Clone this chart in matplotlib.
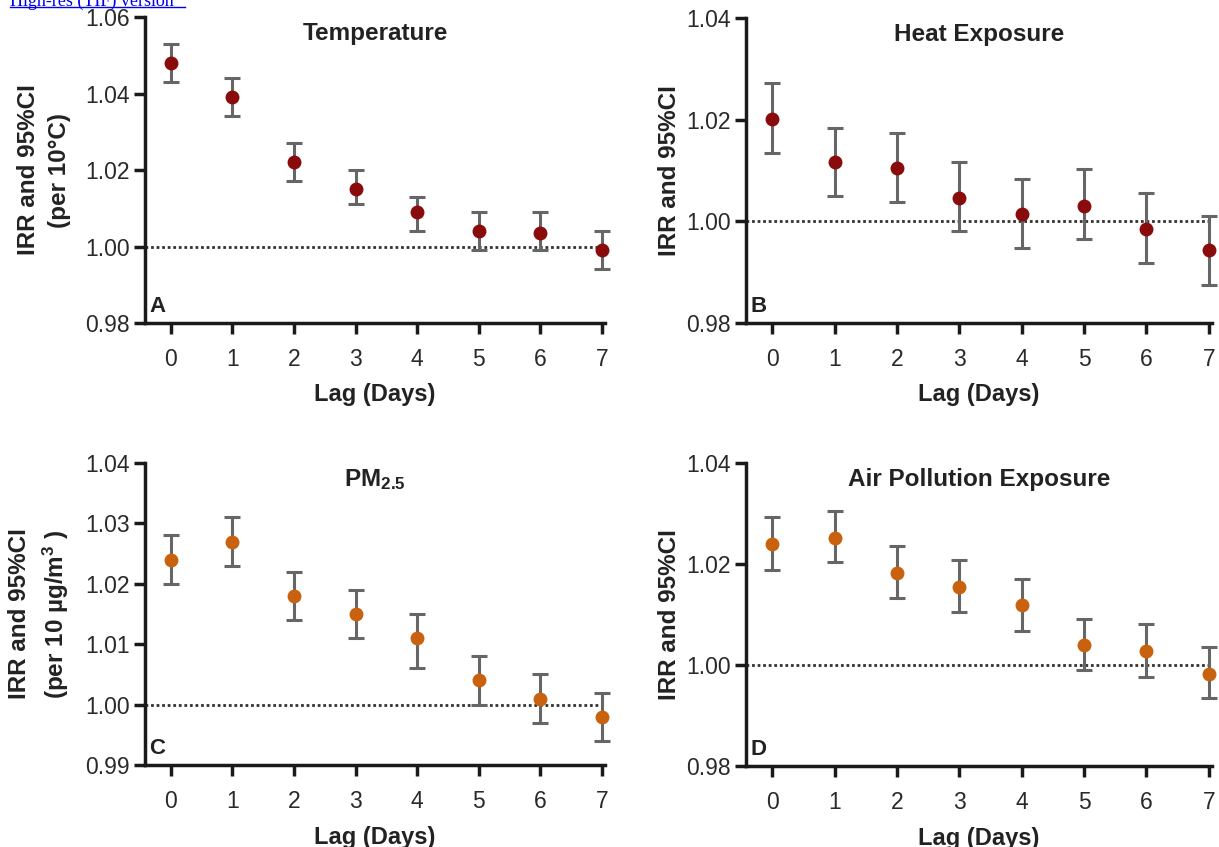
import matplotlib
matplotlib.use("Agg")
import matplotlib.pyplot as plt
from matplotlib.lines import Line2D

plt.rcParams['font.family'] = ['Liberation Sans', 'DejaVu Sans']
plt.rcParams['mathtext.fontset'] = 'custom'
plt.rcParams['mathtext.rm'] = 'Liberation Sans:bold'
plt.rcParams['mathtext.bf'] = 'Liberation Sans:bold'
plt.rcParams['mathtext.default'] = 'bf'

lags = [0, 1, 2, 3, 4, 5, 6, 7]

temp_irr = [1.048, 1.039, 1.022, 1.015, 1.009, 1.004, 1.0035, 0.999]
temp_lo = [1.043, 1.034, 1.017, 1.011, 1.004, 0.999, 0.999, 0.994]
temp_hi = [1.053, 1.044, 1.027, 1.020, 1.013, 1.009, 1.009, 1.004]

heat_irr = [1.0201, 1.0117, 1.0105, 1.0045, 1.0015, 1.0031, 0.9985, 0.9944]
heat_lo = [1.0134, 1.0050, 1.0039, 0.9981, 0.9948, 0.9966, 0.9919, 0.9875]
heat_hi = [1.0272, 1.0184, 1.0174, 1.0116, 1.0083, 1.0102, 1.0055, 1.0011]

pm_irr = [1.024, 1.027, 1.018, 1.015, 1.011, 1.004, 1.001, 0.998]
pm_lo = [1.020, 1.023, 1.014, 1.011, 1.006, 1.000, 0.997, 0.994]
pm_hi = [1.028, 1.031, 1.022, 1.019, 1.015, 1.008, 1.005, 1.002]

air_irr = [1.0239, 1.0251, 1.0183, 1.0155, 1.0119, 1.0040, 1.0028, 0.9983]
air_lo = [1.0189, 1.0203, 1.0132, 1.0104, 1.0068, 0.9991, 0.9977, 0.9934]
air_hi = [1.0294, 1.0305, 1.0236, 1.0208, 1.0171, 1.0092, 1.0081, 1.0036]

titles = ["Temperature", "Heat Exposure", r"PM$_{2.5}$", "Air Pollution Exposure"]
letters = ["A", "B", "C", "D"]
ylabels = ["IRR and 95%CI\n(per 10°C)", "IRR and 95%CI",
           "IRR and 95%CI\n(per 10 µg/m$^{3}$ )", "IRR and 95%CI"]
yticks = [[0.98, 1.00, 1.02, 1.04, 1.06],
          [0.98, 1.00, 1.02, 1.04],
          [0.99, 1.00, 1.01, 1.02, 1.03, 1.04],
          [0.98, 1.00, 1.02, 1.04]]

dark_red = "#8a0b0b"
orange = "#c8620e"
colors = [dark_red, dark_red, orange, orange]

W, H = 1219, 847
fig = plt.figure(figsize=(W / 100, H / 100), dpi=100)

# axes rectangles in pixels: left, top, right, bottom
rects = [(145, 17, 605, 323), (746, 18, 1212, 323),
         (145, 463, 605, 765), (746, 463, 1212, 766)]

data = [(temp_irr, temp_lo, temp_hi), (heat_irr, heat_lo, heat_hi),
        (pm_irr, pm_lo, pm_hi), (air_irr, air_lo, air_hi)]

for i, (l, t, r, b) in enumerate(rects):
    ax = fig.add_axes([l / W, 1 - b / H, (r - l) / W, (b - t) / H])
    irr, lo, hi = data[i]
    yerr = [[v - a for v, a in zip(irr, lo)], [c - v for v, c in zip(irr, hi)]]
    ax.axhline(1.0, color="#333333", linestyle=(0, (1, 1)), linewidth=2, zorder=1)
    eb = ax.errorbar(lags, irr, yerr=yerr, fmt='o', color=colors[i], markersize=9,
                     ecolor="#666666", elinewidth=2.2, capsize=6, capthick=2.2,
                     zorder=3)
    for art in eb.get_children():
        art.set_clip_on(False)
    ax.set_xlim(-0.42, 7.05)
    ax.set_ylim(yticks[i][0], yticks[i][-1])
    ax.set_yticks(yticks[i])
    ax.set_yticklabels([f"{v:.2f}" for v in yticks[i]])
    ax.set_xticks(lags)
    for s in ["top", "right"]:
        ax.spines[s].set_visible(False)
    for s in ["left", "bottom"]:
        ax.spines[s].set_linewidth(2.5)
        ax.spines[s].set_color("#1a1a1a")
    ax.tick_params(axis="both", direction="out", length=8, width=2.5,
                   color="#1a1a1a", labelsize=16.5, labelcolor="#2a2a2a")
    ax.tick_params(axis="x", pad=10)
    ax.tick_params(axis="y", pad=3)
    ax.set_xlabel("Lag (Days)", fontsize=17, fontweight="bold", labelpad=9,
                  color="#222222")
    two_line = "\n" in ylabels[i]
    ax.set_ylabel(ylabels[i], fontsize=17.5, fontweight="bold",
                  labelpad=10 if two_line else 4,
                  color="#222222", linespacing=1.45)
    ax.text(0.5, 0.945, titles[i], transform=ax.transAxes, ha="center", va="center",
            fontsize=17.5, fontweight="bold", color="#222222")
    ax.text(0.01, 0.02, letters[i], transform=ax.transAxes, ha="left", va="bottom",
            fontsize=16, fontweight="bold", color="#222222")

# partially visible link text at top-left
fig.text(10 / W, 1 - 1 / H, "High-res (TIF) version", color="#0000ee",
         fontsize=13, family=["Liberation Serif", "DejaVu Serif"],
         ha="left", va="center")
fig.add_artist(Line2D([10 / W, 185 / W], [1 - 7 / H, 1 - 7 / H],
                      color="#0000ee", linewidth=1, transform=fig.transFigure))

fig.savefig("out.png", dpi=100)
